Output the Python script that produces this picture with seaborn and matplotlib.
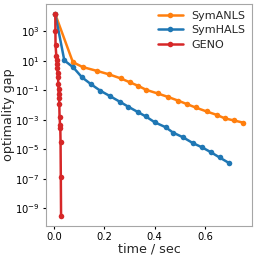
import numpy as np
import pandas as pd
import matplotlib
matplotlib.use("Agg")
import matplotlib.pyplot as plt
import seaborn as sns

# 값은 그림에서 읽은 추정치 (y는 log10 값)
anls_t = [0.004, 0.074, 0.113, 0.172, 0.219, 0.265, 0.302, 0.335, 0.367, 0.412,
          0.454, 0.494, 0.530, 0.563, 0.607, 0.647, 0.680, 0.716, 0.751]
anls_log = [4.15, 0.90, 0.57, 0.30, 0.07, -0.20, -0.47, -0.71, -0.98, -1.22,
            -1.46, -1.71, -1.95, -2.17, -2.44, -2.67, -2.91, -3.05, -3.19]

hals_t = [0.004, 0.040, 0.076, 0.110, 0.146, 0.183, 0.223, 0.260, 0.294, 0.332,
          0.365, 0.400, 0.444, 0.473, 0.513, 0.553, 0.590, 0.626, 0.659, 0.696]
hals_log = [4.15, 1.02, 0.54, -0.12, -0.59, -1.03, -1.41, -1.77, -2.11, -2.47,
            -2.78, -3.17, -3.51, -3.87, -4.19, -4.59, -4.88, -5.22, -5.56, -5.93]

geno_t = [0.004, 0.0045, 0.005, 0.008, 0.009, 0.011, 0.012, 0.013, 0.015, 0.016,
          0.017, 0.0175, 0.019, 0.020, 0.021, 0.023, 0.024, 0.025, 0.026, 0.027]
geno_log = [4.15, 3.02, 2.07, 1.33, 1.05, 0.76, 0.49, 0.15, -0.12, -0.59,
            -0.93, -1.27, -1.54, -1.95, -2.81, -3.35, -3.58, -4.53, -6.90, -9.52]

methods = ["SymANLS", "SymHALS", "GENO"]
colors = ["tab:orange", "tab:blue", "tab:red"]

df = pd.concat([
    pd.DataFrame({"time": anls_t, "gap": 10.0 ** np.array(anls_log), "method": "SymANLS"}),
    pd.DataFrame({"time": hals_t, "gap": 10.0 ** np.array(hals_log), "method": "SymHALS"}),
    pd.DataFrame({"time": geno_t, "gap": 10.0 ** np.array(geno_log), "method": "GENO"}),
])

sns.set_style("white")
fig, ax = plt.subplots(figsize=(2.58, 2.58), dpi=100)
fig.subplots_adjust(left=0.178, right=0.977, bottom=0.124, top=0.984)

sns.lineplot(data=df, x="time", y="gap", hue="method", hue_order=methods,
             palette=colors, marker="o", markersize=4, markeredgewidth=0,
             linewidth=1.8, estimator=None, sort=False, ax=ax)

ax.set_yscale("log")
ax.set_yticks([10.0 ** k for k in range(-9, 4, 2)])
ax.yaxis.set_minor_locator(matplotlib.ticker.NullLocator())
ax.set_xticks([0.0, 0.2, 0.4, 0.6])
ax.set_xticklabels(["0.0", "0.2", "0.4", "0.6"])
ax.tick_params(labelsize=7.2, length=2.5, width=0.8, pad=2, colors="black",
               left=True, bottom=True)
for s in ax.spines.values():
    s.set_color("0.65")
    s.set_linewidth(0.8)

ax.set_xlabel("time / sec", fontsize=9.2, labelpad=0)
ax.set_ylabel("optimality gap", fontsize=9.2, labelpad=0)
ax.legend(title=None, loc="upper right", frameon=False, fontsize=8,
          handlelength=2.2, borderaxespad=0.2, labelspacing=0.4)

fig.savefig("out.png", dpi=100)
